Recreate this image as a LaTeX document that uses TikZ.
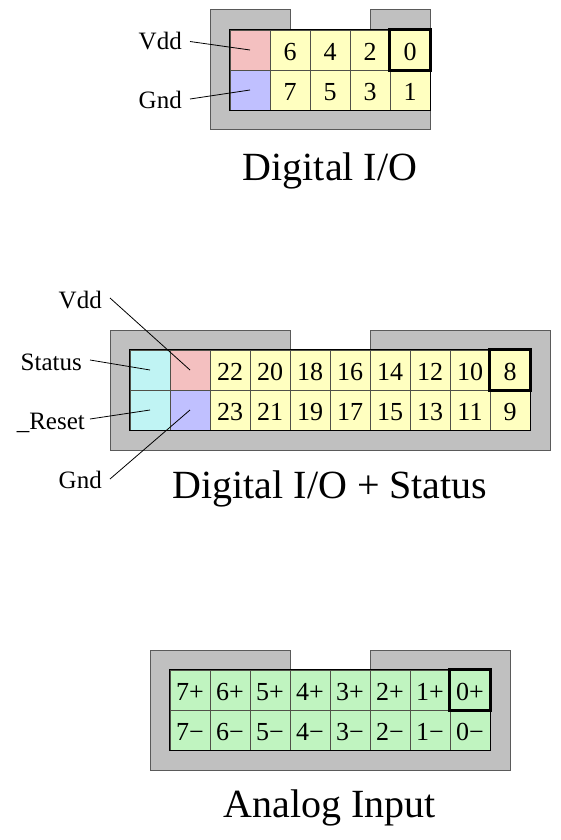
\documentclass[tikz,border=0pt]{standalone}
\usepackage{fontspec}
\setmainfont{Liberation Serif}
\definecolor{hgray}{HTML}{C0C0C0}
\definecolor{hedge}{HTML}{5A5A5A}
\definecolor{celledge}{HTML}{505048}
\definecolor{pwr}{HTML}{F4C0C0}
\definecolor{gndc}{HTML}{C0C0FF}
\definecolor{io}{HTML}{FFFFC0}
\definecolor{stc}{HTML}{C0F4F4}
\definecolor{an}{HTML}{C0F4C0}
\begin{document}
\begin{tikzpicture}[x=1pt,y=-1pt,
  housing/.style={fill=hgray, draw=hedge, line width=1pt},
  cell/.style={draw=celledge, line width=0.8pt, minimum width=40pt, minimum height=40pt, inner sep=0pt, text height=21pt, text depth=0pt, font=\fontsize{26}{31}\selectfont},
  lbl/.style={font=\fontsize{25}{30}\selectfont, inner sep=0pt, text height=17pt, text depth=0pt, anchor=east},
  title/.style={font=\fontsize{40}{48}\selectfont, inner sep=0pt, anchor=base},
  frame/.style={draw=black, line width=1.6pt},
  keybox/.style={draw=black, line width=3.5pt},
  lead/.style={draw=black, line width=0.8pt}]
\useasboundingbox (0,0) rectangle (560,840);

% ---------- Digital I/O ----------
\draw[housing] (210,10) -- (290,10) -- (290,30) -- (370,30) -- (370,10) -- (430,10) -- (430,130) -- (210,130) -- cycle;
\node[cell, fill=pwr] (tvdd) at (250,50) {};
\node[cell, fill=gndc] (tgnd) at (250,90) {};
\foreach \pu/\pd [count=\i] in {6/7,4/5,2/3,0/1} {
  \node[cell, fill=io] (tt\pu) at (250+40*\i,50) {\pu};
  \node[cell, fill=io] (tb\pd) at (250+40*\i,90) {\pd};
}
\draw[frame] (tvdd.north west) rectangle (tb1.south east);
\draw[keybox] (tt0.north west) rectangle (tt0.south east);
\node[lbl] (l1vdd) at (182,41.5) {Vdd};
\node[lbl] (l1gnd) at (182,100.5) {Gnd};
\draw[lead] ([xshift=8pt]l1vdd.east) -- (tvdd.center);
\draw[lead] ([shift={(8pt,1.5pt)}]l1gnd.east) -- (tgnd.center);
\node[title] (title1) at (330,180) {Digital I/O};

% ---------- Digital I/O + Status ----------
\draw[housing] (110,330) -- (290,330) -- (290,350) -- (370,350) -- (370,330) -- (550,330) -- (550,450) -- (110,450) -- cycle;
\node[cell, fill=stc] (mst) at (150,370) {};
\node[cell, fill=stc] (mrs) at (150,410) {};
\node[cell, fill=pwr] (mvdd) at (190,370) {};
\node[cell, fill=gndc] (mgnd) at (190,410) {};
\foreach \pu/\pd [count=\i] in {22/23,20/21,18/19,16/17,14/15,12/13,10/11,8/9} {
  \node[cell, fill=io] (mt\pu) at (190+40*\i,370) {\pu};
  \node[cell, fill=io] (mb\pd) at (190+40*\i,410) {\pd};
}
\draw[frame] (mst.north west) rectangle (mb9.south east);
\draw[keybox] (mt8.north west) rectangle (mt8.south east);
\node[lbl] (l2vdd) at (102,300) {Vdd};
\node[lbl] (l2st) at (82,361.5) {Status};
\node[lbl] (l2rs) at (85,420.5) {\_Reset};
\node[lbl] (l2gnd) at (102,480) {Gnd};
\draw[lead] ([shift={(8pt,2pt)}]l2vdd.east) -- (mvdd.center);
\draw[lead] ([shift={(8pt,1.5pt)}]l2st.east) -- (mst.center);
\draw[lead] ([shift={(5pt,1.5pt)}]l2rs.east) -- (mrs.center);
\draw[lead] ([shift={(8pt,1pt)}]l2gnd.east) -- (mgnd.center);
\node[title] (title2) at (330,498) {Digital I/O + Status};

% ---------- Analog Input ----------
\draw[housing] (150,650) -- (290,650) -- (290,670) -- (370,670) -- (370,650) -- (510,650) -- (510,770) -- (150,770) -- cycle;
\foreach \n in {7,6,5,4,3,2,1,0} {
  \node[cell, fill=an] (ap\n) at (190+40*7-40*\n,690) {\n+};
  \node[cell, fill=an] (am\n) at (190+40*7-40*\n,730) {\n−};
}
\draw[frame] (ap7.north west) rectangle (am0.south east);
\draw[keybox] (ap0.north west) rectangle (ap0.south east);
\node[title] (title3) at (330,817) {Analog Input};
\end{tikzpicture}
\end{document}
